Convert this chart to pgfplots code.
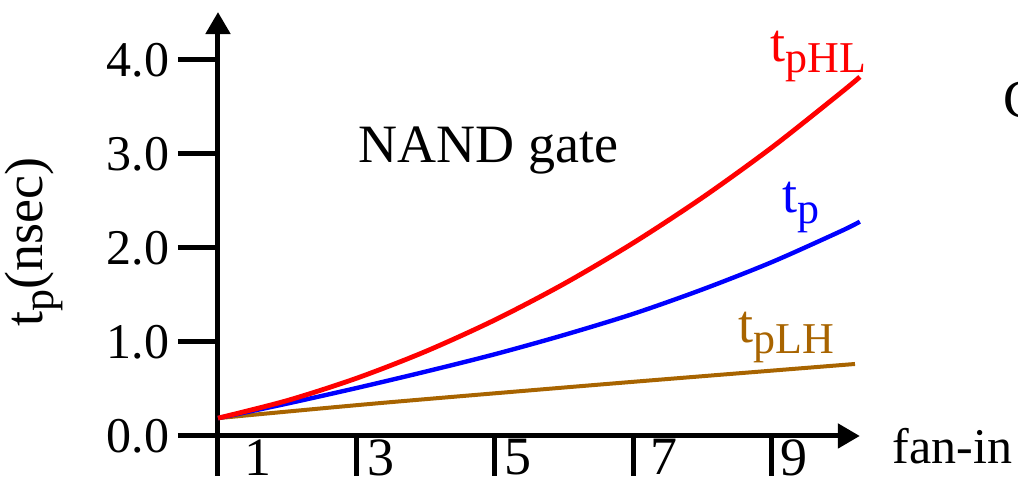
\documentclass[border=0pt]{standalone}
\usepackage{fontspec}
\setmainfont{Liberation Serif}
\usepackage{pgfplots}
\pgfplotsset{compat=1.18}
\usetikzlibrary{arrows.meta}
\definecolor{tred}{RGB}{255,0,0}
\definecolor{tblue}{RGB}{0,0,255}
\definecolor{tbrown}{RGB}{168,100,0}
\newcommand{\sub}[1]{\raisebox{-2.6pt}{\fontsize{11}{12}\selectfont #1}}
\begin{document}
\begin{tikzpicture}[font=\fontsize{13.5}{15}\selectfont]
\useasboundingbox (-54.5pt,-10.25pt) rectangle (200pt,109pt);
\clip (-54.5pt,-10.25pt) rectangle (200pt,109pt);
\begin{axis}[
  at={(0pt,0pt)}, anchor=south west, scale only axis,
  x=17.31pt, y=23.5pt,
  xmin=1, xmax=10.27, ymin=0, ymax=4.51,
  axis lines=left,
  axis line style={line width=1.25pt, black, -{Triangle[length=5.5pt,width=6pt]}},
  tick align=outside, major tick length=10pt,
  tick style={black, line width=1.25pt},
  ytick={0,1,2,3,4},
  /pgf/number format/fixed, /pgf/number format/fixed zerofill, /pgf/number format/precision=1,
  /pgf/number format/assume math mode=true,
  tick label style={font=\fontsize{12.5}{14}\selectfont},
  yticklabel style={anchor=east, inner sep=0pt, xshift=-2pt},
  xtick={1,3,5,7,9},
  xticklabels={\hspace{4.5pt}1,\hspace{0.5pt}3,\hspace{0.3pt}5,\hspace{2pt}7,9},
  xticklabel style={anchor=north west, inner sep=0pt, xshift=2pt, yshift=9.3pt, font=\fontsize{13.5}{15}\selectfont},
  clip=false,
]
\addplot[tbrown, line width=1pt, smooth] coordinates {(1,0.19)(3.34,0.35)(6.81,0.565)(10.2,0.766)};
\addplot[tblue, line width=1.1pt, smooth] coordinates {(1,0.19)(2,0.345)(3,0.51)(4,0.685)(5,0.87)(6,1.075)(7,1.30)(8,1.56)(9,1.85)(10,2.18)(10.27,2.28)};
\addplot[tred, line width=1.2pt, smooth] coordinates {(1,0.19)(2,0.377)(3,0.614)(4,0.90)(5,1.235)(6,1.62)(7,2.055)(8,2.538)(9,3.07)(10,3.654)(10.27,3.82)};
\end{axis}
\node[anchor=base west, tred, inner sep=0] at (138pt,93.5pt) {t\sub{pHL}};
\node[anchor=base west, tblue, inner sep=0] at (141pt,55.75pt) {t\sub{p}};
\node[anchor=base west, tbrown, inner sep=0] at (130pt,23.25pt) {t\sub{pLH}};
\node[anchor=base west, inner sep=0] at (35pt,68.25pt) {NAND gate};
\node[anchor=base west, inner sep=0, font=\fontsize{12.5}{14}\selectfont] at (168.5pt,-7pt) {fan-in};
\node[rotate=90, inner sep=0] at (-46pt,48.5pt) {t\sub{p}(nsec)};
\node[anchor=west, inner sep=0] at (196.25pt,84pt) {C};
\end{tikzpicture}
\end{document}
